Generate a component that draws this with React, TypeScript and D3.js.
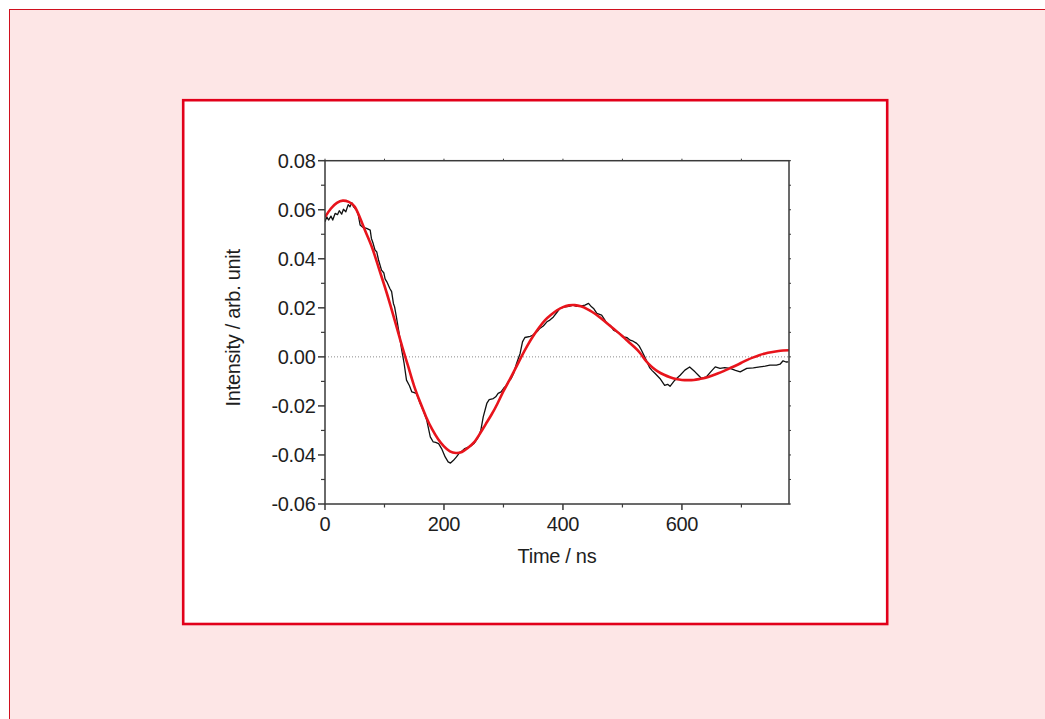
import React from "react";
import * as d3 from "d3";

// Fit curve (red), time in ns and intensity
const fitTime = [0, 10, 20, 30, 40, 50, 60, 70, 80, 90, 100, 110, 120, 130, 140, 150, 160, 170, 180, 190, 200, 210, 220, 230, 240, 250, 260, 270, 280, 290, 300, 310, 320, 330, 340, 350, 360, 370, 380, 390, 400, 410, 420, 430, 440, 450, 460, 470, 480, 490, 500, 510, 520, 530, 540, 550, 560, 570, 580, 590, 600, 610, 620, 630, 640, 650, 660, 670, 680, 690, 700, 710, 720, 730, 740, 750, 760, 770, 780];
const fitValue = [0.057, 0.0605, 0.0628, 0.0637, 0.0632, 0.0612, 0.056, 0.05, 0.044, 0.0365, 0.029, 0.021, 0.0125, 0.004, -0.004, -0.012, -0.0185, -0.0245, -0.0295, -0.0335, -0.0365, -0.0385, -0.0392, -0.0388, -0.0372, -0.035, -0.0315, -0.0275, -0.0235, -0.019, -0.014, -0.0095, -0.0048, 0.0, 0.0045, 0.0085, 0.012, 0.015, 0.0172, 0.019, 0.0203, 0.021, 0.0211, 0.0206, 0.0196, 0.0182, 0.0165, 0.0145, 0.0125, 0.0105, 0.0084, 0.0062, 0.004, 0.0015, -0.0018, -0.0042, -0.006, -0.0073, -0.0083, -0.009, -0.0094, -0.0095, -0.0094, -0.009, -0.0085, -0.0077, -0.0068, -0.0058, -0.0047, -0.0036, -0.0024, -0.0012, -0.0002, 0.0007, 0.0014, 0.0019, 0.0023, 0.0026, 0.0027];

// Measured data (black)
const dataTime = [0, 3, 6, 10, 13, 17, 21, 24, 28, 31, 35, 39, 42, 45, 48, 53, 56, 59, 64, 70, 76, 78, 81, 84, 87, 90, 95, 99, 101, 104, 109, 112, 115, 117, 120, 124, 129, 133, 137, 142, 146, 150, 154, 160, 165, 171, 177, 182, 186, 191, 196, 202, 207, 211, 216, 221, 227, 231, 235, 244, 251, 258, 262, 266, 272, 276, 283, 287, 291, 296, 300, 304, 308, 313, 317, 322, 328, 332, 336, 345, 349, 353, 357, 361, 367, 373, 378, 384, 390, 395, 403, 410, 417, 423, 429, 437, 443, 448, 452, 457, 465, 470, 474, 480, 485, 494, 502, 508, 513, 518, 524, 528, 532, 538, 546, 550, 555, 563, 571, 576, 580, 588, 597, 605, 613, 622, 628, 633, 641, 648, 656, 664, 672, 681, 690, 698, 709, 720, 731, 740, 748, 759, 765, 770, 775, 779];
const dataValue = [0.0551, 0.0571, 0.0558, 0.0574, 0.0558, 0.0585, 0.058, 0.0596, 0.0582, 0.0602, 0.0592, 0.0621, 0.0612, 0.0629, 0.0612, 0.0599, 0.0578, 0.0538, 0.0528, 0.0524, 0.0517, 0.0483, 0.0462, 0.0436, 0.0428, 0.0395, 0.0354, 0.0342, 0.0318, 0.0306, 0.0279, 0.0266, 0.0218, 0.0204, 0.0163, 0.0105, 0.0027, -0.0027, -0.0095, -0.0118, -0.0143, -0.0146, -0.015, -0.019, -0.0218, -0.0258, -0.0326, -0.0347, -0.0349, -0.0354, -0.0374, -0.0408, -0.0428, -0.0433, -0.0422, -0.0408, -0.0388, -0.0383, -0.0374, -0.0365, -0.0352, -0.0326, -0.0299, -0.0245, -0.019, -0.0174, -0.017, -0.0163, -0.0149, -0.0143, -0.0129, -0.0118, -0.0102, -0.0088, -0.0068, -0.0027, 0.0014, 0.0061, 0.0079, 0.0084, 0.0088, 0.0096, 0.0104, 0.0116, 0.0126, 0.0143, 0.0150, 0.0163, 0.0182, 0.0198, 0.0204, 0.0206, 0.0211, 0.0206, 0.0207, 0.0211, 0.0218, 0.0204, 0.0196, 0.0177, 0.017, 0.0152, 0.0136, 0.0128, 0.0109, 0.0098, 0.0082, 0.0078, 0.0068, 0.0064, 0.0055, 0.0045, 0.0027, -0.0003, -0.0045, -0.0056, -0.0068, -0.0088, -0.0116, -0.0112, -0.012, -0.0095, -0.0075, -0.0054, -0.0041, -0.0061, -0.0076, -0.0088, -0.0082, -0.0062, -0.0041, -0.0047, -0.0044, -0.0047, -0.0055, -0.0061, -0.0047, -0.0045, -0.0041, -0.0038, -0.0034, -0.0034, -0.0030, -0.0016, -0.0021, -0.002];

const xMajorTicks = [0, 200, 400, 600];
const xMinorTicks = [100, 300, 500, 700];
const yMajorTicks = [-0.06, -0.04, -0.02, 0.0, 0.02, 0.04, 0.06, 0.08];
const yMinorTicks = [-0.05, -0.03, -0.01, 0.01, 0.03, 0.05, 0.07];

const xLabel = "Time / ns";
const yLabel = "Intensity / arb. unit";

export default function App() {
  const left = 325, right = 789, top = 160.7, bottom = 504;
  const x = d3.scaleLinear().domain([0, 780]).range([left, right]);
  const y = d3.scaleLinear().domain([-0.06, 0.08]).range([bottom, top]);

  const fitLine = d3
    .line<number>()
    .x((_, i) => x(fitTime[i]))
    .y((d) => y(d))
    .curve(d3.curveNatural)(fitValue) as string;

  const dataLine = d3
    .line<number>()
    .x((_, i) => x(dataTime[i]))
    .y((d) => y(d))
    .curve(d3.curveLinear)(dataValue) as string;

  const axisColor = "#3a3a3a";
  const textColor = "#1e1e1e";
  const font = "'Liberation Sans', Arial, sans-serif";

  return (
    <svg
      width={1045}
      height={719}
      style={{ position: "fixed", left: 0, top: 0, display: "block" }}
    >
      <rect x={0} y={0} width={1045} height={719} fill="#ffffff" />
      <rect x={9.5} y={9.5} width={1100} height={800} fill="#fde6e6" stroke="#d0101e" strokeWidth={1} />
      <rect x={183.2} y={100.2} width={704} height={523.8} fill="#ffffff" stroke="#e2001a" strokeWidth={2.6} />

      <defs>
        <clipPath id="plotclip">
          <rect x={left} y={top} width={right - left} height={bottom - top} />
        </clipPath>
      </defs>

      {/* zero line */}
      <line x1={left} x2={right} y1={y(0)} y2={y(0)} stroke="#8a8a8a" strokeWidth={1} strokeDasharray="1,2" />

      <g clipPath="url(#plotclip)">
        <path d={dataLine} fill="none" stroke="#111" strokeWidth={1.3} strokeLinejoin="round" />
        <path d={fitLine} fill="none" stroke="#e8141c" strokeWidth={2.6} strokeLinejoin="round" />
      </g>

      {/* frame */}
      <rect x={left} y={top} width={right - left} height={bottom - top} fill="none" stroke={axisColor} strokeWidth={1.5} />

      {/* left ticks */}
      {yMajorTicks.map((t) => (
        <g key={"ym" + t}>
          <line x1={left - 7} x2={left} y1={y(t)} y2={y(t)} stroke={axisColor} strokeWidth={1.5} />
          <text x={left - 9.5} y={y(t)} dy="0.35em" textAnchor="end" fontFamily={font} fontSize={20} fill={textColor} letterSpacing={-0.3}>
            {t.toFixed(2)}
          </text>
        </g>
      ))}
      {yMinorTicks.map((t) => (
        <line key={"yn" + t} x1={left - 4} x2={left} y1={y(t)} y2={y(t)} stroke={axisColor} strokeWidth={1.2} />
      ))}
      {/* right small ticks */}
      {yMajorTicks.concat(yMinorTicks).map((t) => (
        <line key={"yr" + t} x1={right} x2={right + 2} y1={y(t)} y2={y(t)} stroke={axisColor} strokeWidth={1} />
      ))}

      {/* bottom ticks */}
      {xMajorTicks.map((t) => (
        <g key={"xm" + t}>
          <line x1={x(t)} x2={x(t)} y1={bottom} y2={bottom + 6} stroke={axisColor} strokeWidth={1.5} />
          <text x={x(t)} y={531} textAnchor="middle" fontFamily={font} fontSize={20} fill={textColor} letterSpacing={-0.3}>
            {t}
          </text>
        </g>
      ))}
      {xMinorTicks.map((t) => (
        <line key={"xn" + t} x1={x(t)} x2={x(t)} y1={bottom} y2={bottom + 3.5} stroke={axisColor} strokeWidth={1.2} />
      ))}
      {/* top small ticks */}
      {xMajorTicks.concat(xMinorTicks).map((t) => (
        <line key={"xt" + t} x1={x(t)} x2={x(t)} y1={top} y2={top - 2} stroke={axisColor} strokeWidth={1} />
      ))}

      <text x={(left + right) / 2} y={563} textAnchor="middle" fontFamily={font} fontSize={20} fill={textColor} letterSpacing={-0.3}>
        {xLabel}
      </text>
      <text
        transform={`translate(239.5, ${(top + bottom) / 2 - 4.5}) rotate(-90)`}
        textAnchor="middle"
        fontFamily={font}
        fontSize={20}
        fill={textColor}
        letterSpacing={-0.3}
      >
        {yLabel}
      </text>
    </svg>
  );
}
